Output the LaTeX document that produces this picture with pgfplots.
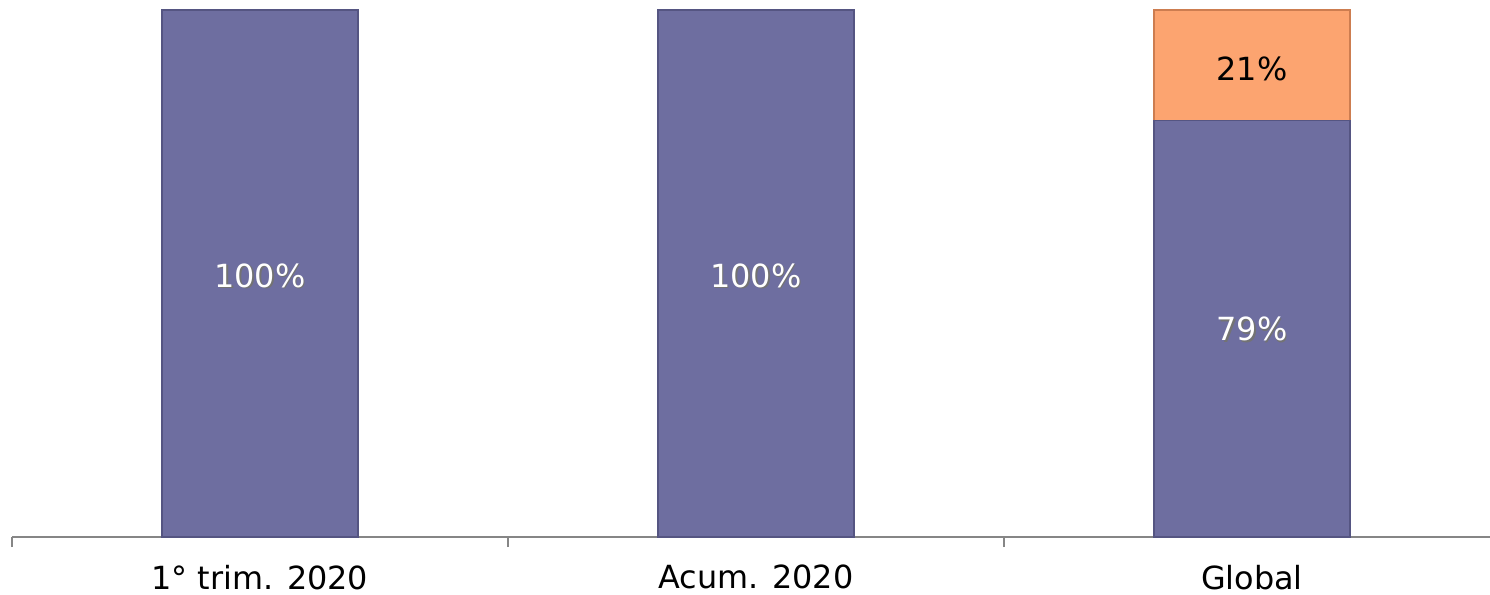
\documentclass[border=0pt]{standalone}
\usepackage{pgfplots}
\pgfplotsset{compat=1.18}
\usepackage{fontspec}
\setmainfont{DejaVu Sans}
\definecolor{barpurple}{RGB}{110,110,160}
\definecolor{barpurpleedge}{RGB}{85,85,130}
\definecolor{barorange}{RGB}{252,164,112}
\definecolor{barorangeedge}{RGB}{205,125,80}
\definecolor{axisgray}{RGB}{134,134,134}
\pgfplotsset{
  common/.style={
    scale only axis,
    width=739bp, height=268.5bp,
    xmin=-0.5, xmax=2.48,
    ymin=0, ymax=101.9,
    clip=false,
  }
}
\begin{document}
\begin{tikzpicture}
\useasboundingbox (-6bp,-29bp) rectangle (739bp,268.5bp);
\begin{axis}[
  common,
  ybar stacked, bar width=98bp,
  axis y line=none,
  axis x line*=bottom,
  x axis line style={axisgray, line width=0.8pt, -},
  xtick={0,1,2},
  xticklabels={1° trim. 2020, Acum. 2020, Global},
  major tick length=0pt,
  minor xtick={-0.5,0.5,1.5},
  minor tick length=5bp,
  xtick style={axisgray, line width=0.8pt},
  xtick align=outside,
  x tick label style={font=\fontsize{16}{19}\selectfont, yshift=-10.5bp},
]
\addplot[fill=barpurple, draw=barpurpleedge, line width=0.6pt] coordinates {(0,100) (1,100) (2,79)};
\addplot[fill=barorange, draw=barorangeedge, line width=0.6pt] coordinates {(0,0) (1,0) (2,21)};
\end{axis}
\begin{axis}[
  common,
  hide axis,
  nodes near coords,
  nodes near coords align=center,
  point meta=explicit symbolic,
]
\addplot[draw=none, mark=none, every node near coord/.append style={text=black!55, font=\fontsize{16}{19}\selectfont, xshift=0.8bp, yshift=-0.8bp}]
  coordinates {(0,49.6)[100\%] (1,49.6)[100\%] (2,39.5)[79\%]};
\addplot[draw=none, mark=none, every node near coord/.append style={text=white, font=\fontsize{16}{19}\selectfont}]
  coordinates {(0,49.6)[100\%] (1,49.6)[100\%] (2,39.5)[79\%]};
\addplot[draw=none, mark=none, every node near coord/.append style={text=black, font=\fontsize{16}{19}\selectfont}]
  coordinates {(2,88.8)[21\%]};
\end{axis}
\end{tikzpicture}
\end{document}
